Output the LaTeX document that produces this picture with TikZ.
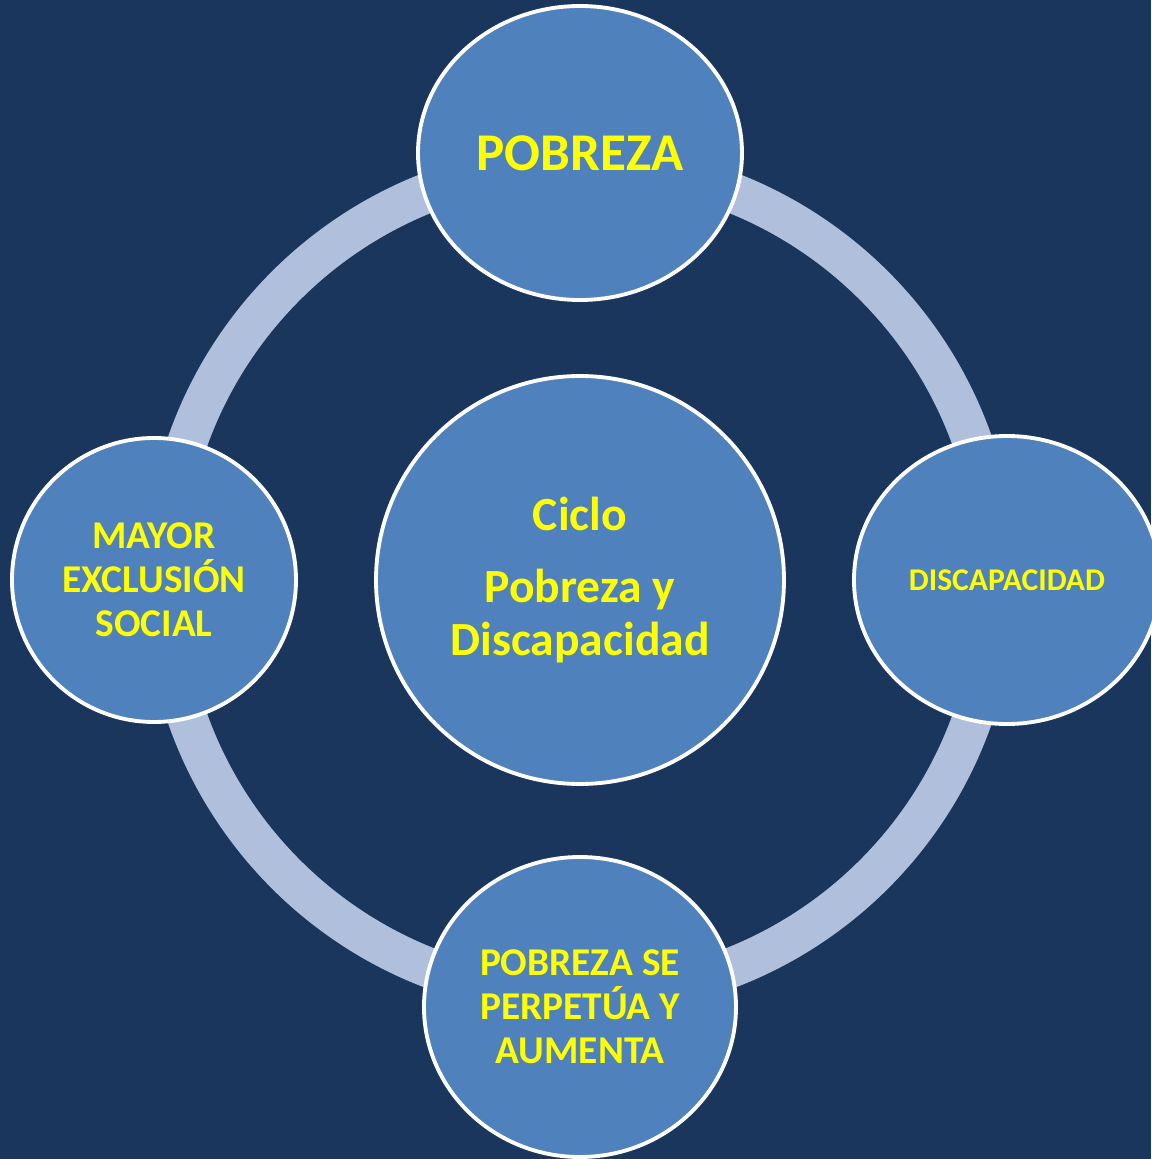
\documentclass[tikz,border=0pt]{standalone}
\usepackage{fontspec}
\setmainfont{Carlito}
\usetikzlibrary{shapes.geometric}
\definecolor{navy}{HTML}{1A365D}
\definecolor{bubble}{HTML}{4F81BD}
\definecolor{ringblue}{HTML}{B0C0DC}
\definecolor{labelyellow}{HTML}{FFFF00}
\tikzset{
	bubble/.style={fill=bubble,draw=white,line width=2.2pt,text=labelyellow,align=center,inner sep=0pt},
	cycle ring/.style={draw=ringblue,line width=0.8cm}
}
\begin{document}
\begin{tikzpicture}
				\fill [navy] (-11.6,-11.58) rectangle (11.42,11.6);
				\useasboundingbox (-11.6,-11.58) rectangle (11.42,11.6);
				
				\draw [cycle ring] (0,0) circle (8.32);
				\begin{scope}[every node/.style={bubble,font=\bfseries}]
					\node [circle,minimum size=8.16cm,font=\bfseries\fontsize{27.1}{30.2}\selectfont] (Ciclo) at (0,0) {Ciclo\\[10.8pt]Pobreza y\\Discapacidad};
					\node [ellipse,minimum width=6.48cm,minimum height=5.88cm,font=\bfseries\fontsize{30.2}{34}\selectfont] (Pobreza) at (0,8.54) {POBREZA};
					\node [ellipse,minimum width=6.12cm,minimum height=5.76cm,font=\bfseries\fontsize{18}{21}\selectfont] (Discapacidad) at (8.54,0) {DISCAPACIDAD};
					\node [ellipse,minimum width=6.24cm,minimum height=6cm,font=\bfseries\fontsize{22.4}{25}\selectfont] (Perpetua) at (0,-8.54) {POBREZA SE\\PERPETÚA Y\\AUMENTA};
					\node [circle,minimum size=5.68cm,font=\bfseries\fontsize{22.4}{25}\selectfont] (Exclusion) at (-8.52,0) {MAYOR\\EXCLUSIÓN\\SOCIAL};
				\end{scope}
			\end{tikzpicture}
\end{document}
